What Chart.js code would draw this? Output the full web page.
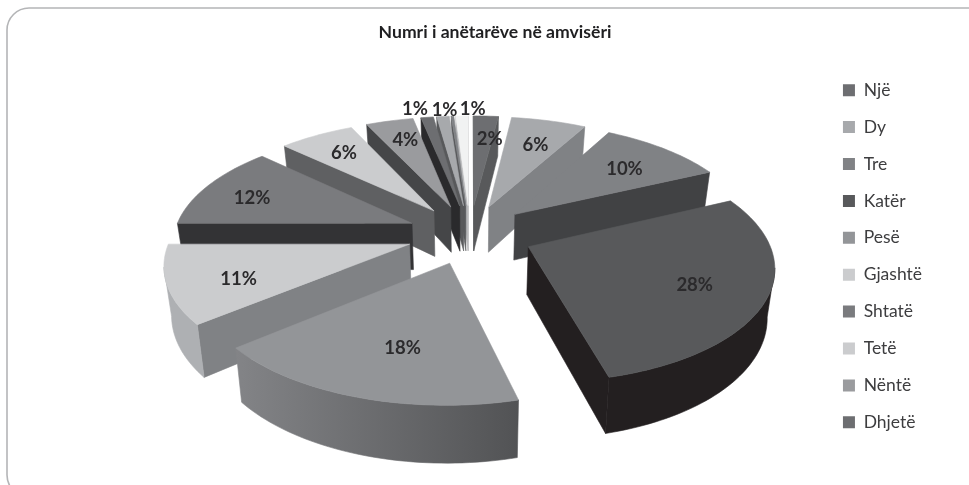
<!DOCTYPE html>
<html>
<head>
<meta charset="utf-8">
<style>html,body{margin:0;padding:0;background:#fff}#w{width:969px;height:485px;position:relative}</style>
<script src="https://cdn.jsdelivr.net/npm/chart.js@4"></script>
</head>
<body>
<div id="w"><canvas id="c" width="969" height="485"></canvas></div>
<script>
const chartTitle = 'Numri i anëtarëve në amvisëri';
const categories = ['Një','Dy','Tre','Katër','Pesë','Gjashtë','Shtatë','Tetë','Nëntë','Dhjetë'];
const shares = [2,6,10,28,18,11,12,6,3.8,1,1,0.2,1];
const topColors = ['#6d6e71','#a7a9ac','#808285','#58595b','#939598','#cbccce','#7a7b7e','#cbccce','#9a9b9e','#6d6e71','#a7a9ac','#808285','#f1f2f2'];
const wallColors = ['#58595b','#808285','#414244','#231f20','#58595b','#808285','#333335','#5f6062','#454648','#2a2a2c','#58595b','#58595b','#b8b9bb'];
const arcLeftColors = ['#58595b','#808285','#414244','#231f20','#838487','#aeb0b3','#333335','#5f6062','#454648','#2a2a2c','#58595b','#58595b','#b8b9bb'];
const arcRightColors = ['#58595b','#808285','#414244','#231f20','#525355','#aeb0b3','#333335','#5f6062','#454648','#2a2a2c','#58595b','#58595b','#b8b9bb'];
const labelNudges = [[7,-1],[3,1],[2,2],[3,2],[15,-4],[-4,7],[-15,2],[-5,-3],[-1,-5],[-21,-32],[-4,-31],null,[9,-31]];

// perspective view of the unit pie
const view = {cx:470, cy:234, ax:238, ay:111, persp:0.15, explode:0.266, height:47, shrink:0.975};
function project(X, Y, bottom){
  const d = 1 + view.persp*Y;
  let sx = view.cx + view.ax*X/d, sy = view.cy - view.ay*Y/d;
  if(bottom){ sx = view.cx + (sx-view.cx)*view.shrink; sy += view.height/d; }
  return [sx, sy];
}
function fillPoly(ctx, pts, color){
  ctx.beginPath();
  pts.forEach((p,i)=> i?ctx.lineTo(p[0],p[1]):ctx.moveTo(p[0],p[1]));
  ctx.closePath();
  ctx.fillStyle=color; ctx.strokeStyle=color; ctx.lineWidth=0.6;
  ctx.fill(); ctx.stroke();
}
const pie3d = {
  id:'pie3d',
  beforeDraw(chart){
    const ctx=chart.ctx;
    ctx.save();
    ctx.strokeStyle='#b4b5b7'; ctx.lineWidth=1.6;
    ctx.beginPath(); ctx.roundRect(7,8,1000,489,22); ctx.stroke();
    ctx.restore();
  },
  beforeDatasetsDraw(chart){
    const ctx=chart.ctx, arcs=chart.getDatasetMeta(0).data;
    const slices=arcs.map((el,i)=>{
      const a0=el.startAngle+Math.PI/2, a1=el.endAngle+Math.PI/2, m=(a0+a1)/2;
      const ax=Math.sin(m)*view.explode, ay=Math.cos(m)*view.explode;
      return {i,a0,a1,m,ax,ay};
    });
    slices.slice().sort((p,q)=>Math.cos(q.m)-Math.cos(p.m)).forEach(s=>{
      const at=(t,b)=>project(s.ax+Math.sin(t),s.ay+Math.cos(t),b);
      const apexT=project(s.ax,s.ay,false), apexB=project(s.ax,s.ay,true);
      const n=Math.max(2,Math.ceil((s.a1-s.a0)/0.025));
      const ts=[];for(let k=0;k<=n;k++)ts.push(s.a0+(s.a1-s.a0)*k/n);
      const topArc=ts.map(t=>at(t,false)), botArc=ts.map(t=>at(t,true));
      // edges facing the viewer run right-to-left in clockwise order
      const e0=topArc[0], e1=topArc[n];
      if(e0[0]-apexT[0]<0) fillPoly(ctx,[apexT,e0,botArc[0],apexB],wallColors[s.i]);
      if(apexT[0]-e1[0]<0) fillPoly(ctx,[e1,apexT,apexB,botArc[n]],wallColors[s.i]);
      const idx=[];
      for(let k=0;k<n;k++) if(topArc[k+1][0]-topArc[k][0]<0) idx.push(k);
      if(idx.length){
        const first=idx[0], last=idx[idx.length-1]+1;
        const up=topArc.slice(first,last+1), down=botArc.slice(first,last+1).reverse();
        const g=ctx.createLinearGradient(up[up.length-1][0],0,up[0][0],0);
        g.addColorStop(0,arcLeftColors[s.i]); g.addColorStop(1,arcRightColors[s.i]);
        fillPoly(ctx,up.concat(down),g);
      }
      fillPoly(ctx,[apexT,...topArc],topColors[s.i]);
    });
    const total=shares.reduce((a,b)=>a+b,0);
    ctx.save();
    ctx.font='bold 18.5px Lato'; ctx.fillStyle='#2b2a2c'; ctx.textAlign='center'; ctx.textBaseline='middle';
    slices.forEach(s=>{
      const nudge=labelNudges[s.i]; if(!nudge) return;
      const p=project(s.ax+Math.sin(s.m)*0.7,s.ay+Math.cos(s.m)*0.7,false);
      ctx.fillText(Math.round(shares[s.i]/total*100)+'%',p[0]+nudge[0],p[1]+nudge[1]);
    });
    ctx.restore();
    return false;
  }
};
new Chart(document.getElementById('c'),{
  type:'pie',
  data:{labels:categories,datasets:[{data:shares,backgroundColor:topColors,borderWidth:0}]},
  plugins:[pie3d],
  options:{
    responsive:false,animation:false,
    layout:{padding:{top:21.5,right:37,bottom:-6,left:58}},
    plugins:{
      tooltip:{enabled:false},
      title:{display:true,text:chartTitle,color:'#1f1f21',font:{family:'Lato',size:17.6,weight:'bold'},padding:{top:0,bottom:3.5}},
      legend:{position:'right',labels:{boxWidth:12,boxHeight:12,padding:19.4,color:'#3d3d3f',font:{family:'Lato',size:17.5}}}
    }
  }
});
</script>
</body>
</html>
